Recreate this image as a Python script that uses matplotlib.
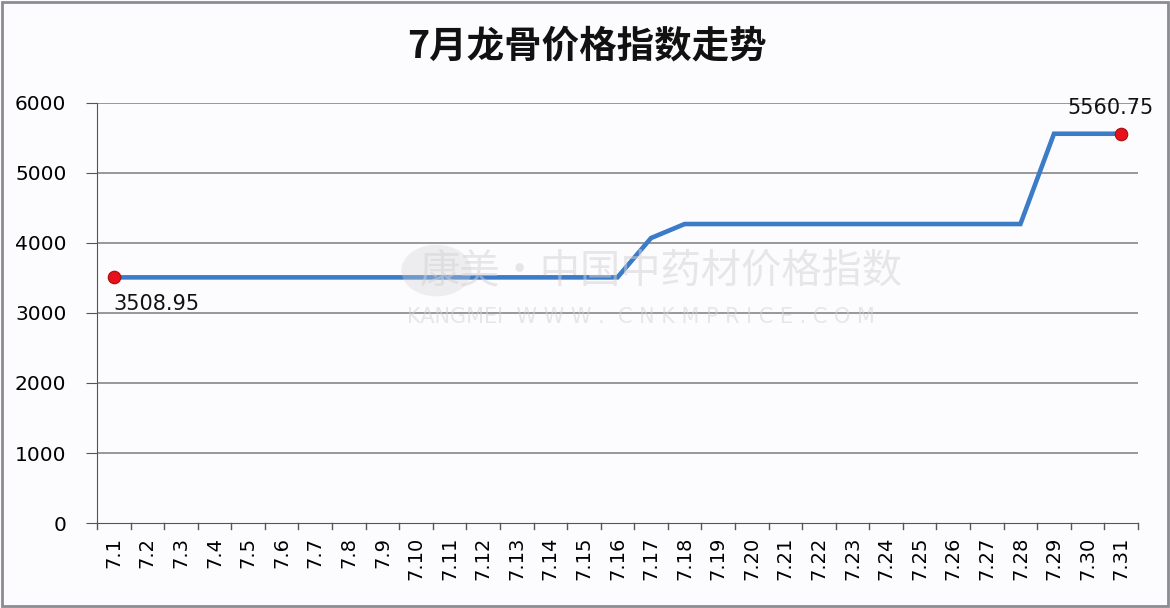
import matplotlib
matplotlib.use("Agg")
import matplotlib.pyplot as plt
import matplotlib.patches as mpatches

plt.rcParams["font.family"] = ["DejaVu Sans", "Noto Sans CJK SC"]

# 数据
dates = [f"7.{d}" for d in range(1, 32)]
index_values = [3508.95] * 16 + [4071, 4271] + [4271] * 10 + [5560.75, 5560.75, 5560.75]
title = "7月龙骨价格指数走势"
y_ticks = [0, 1000, 2000, 3000, 4000, 5000, 6000]

LINE_COLOR = "#3b7bc8"
DOT_COLOR = "#e8101a"
BG = "#fcfcfe"

fig = plt.figure(figsize=(11.7, 6.08), dpi=100, facecolor=BG)
ax = fig.add_axes([0.0829, 0.1398, 0.8897, 0.6908])
ax.set_facecolor(BG)

# 外边框
fig.patches.append(mpatches.Rectangle((0.002, 0.004), 0.996, 0.992, transform=fig.transFigure,
                                      fill=False, edgecolor="#8a8c92", lw=2))

x = list(range(len(dates)))
ax.set_xlim(-0.5, len(dates) - 0.5)
ax.set_ylim(0, 6000)

# 网格线
for yv in y_ticks[1:]:
    ax.axhline(yv, color="#7d7d7d", lw=1.1, zorder=1)

# 水印
fig.text(0.565, 0.555, "康美·中国中药材价格指数", fontsize=29, color="#d2d2d6", alpha=0.5,
         ha="center", va="center", family=["Noto Sans CJK SC"], zorder=0)
fig.patches.append(mpatches.Ellipse((0.373, 0.555), 0.06, 0.085, transform=fig.transFigure,
                                    facecolor="#d2d2d6", alpha=0.35, edgecolor="none", zorder=0))
fig.text(0.548, 0.478, "KANGMEI  W W W .  C N K M P R I C E . C O M", fontsize=15, color="#d2d2d6",
         alpha=0.5, ha="center", va="center", zorder=0)

ax.plot(x, index_values, color=LINE_COLOR, lw=3.3, solid_joinstyle="miter", zorder=3)
ax.plot([x[0], x[-1]], [index_values[0], index_values[-1]], "o", color=DOT_COLOR,
        markersize=9, markeredgecolor="#a01010", markeredgewidth=0.8, zorder=4)

ax.annotate(f"{index_values[0]:.2f}", (x[0], index_values[0]), xytext=(0, -12),
            textcoords="offset points", ha="left", va="top", fontsize=15, color="#111111")
ax.annotate(f"{index_values[-1]:.2f}", (x[-1], index_values[-1]), xytext=(-8, 11),
            textcoords="offset points", ha="center", va="bottom", fontsize=15, color="#111111")

# 坐标轴
for side in ["top", "right"]:
    ax.spines[side].set_visible(False)
ax.spines["left"].set_color("#555555")
ax.spines["bottom"].set_color("#555555")

ax.set_yticks(y_ticks)
ax.set_yticklabels([str(v) for v in y_ticks], fontsize=14.5)
ax.tick_params(axis="y", length=8, color="#555555", pad=14)

ax.set_xticks(x)
ax.set_xticklabels(dates, rotation=90, fontsize=14)
ax.tick_params(axis="x", length=0, pad=10)
# 分类边界刻度
for b in range(len(dates) + 1):
    ax.plot([b - 0.5, b - 0.5], [0, -0.014], transform=ax.get_xaxis_transform(),
            color="#555555", lw=1, clip_on=False)

fig.text(0.502, 0.925, title, ha="center", va="center", fontsize=27, fontweight="bold",
         family=["Noto Sans CJK SC"], color="#111111")

fig.savefig("out.png", dpi=100, facecolor=BG)
